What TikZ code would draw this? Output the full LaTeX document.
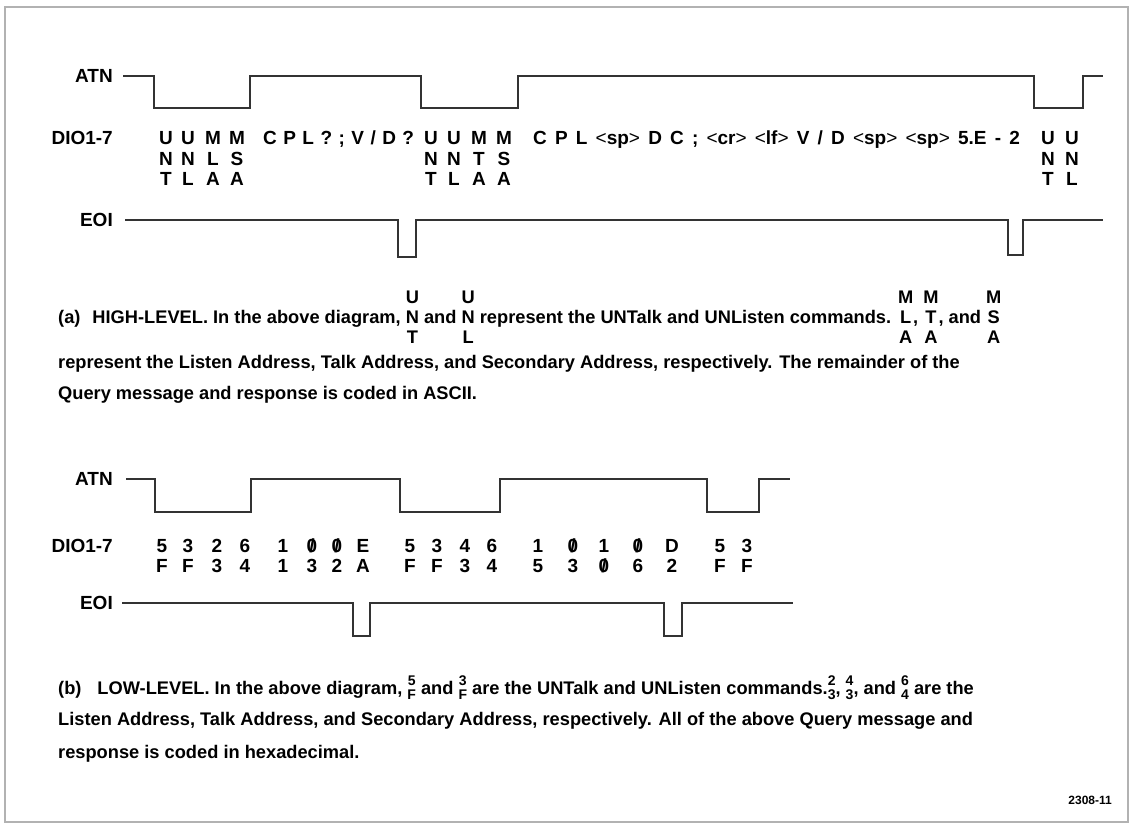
\documentclass[tikz,border=0pt]{standalone}
\usepackage{fontspec}
\setmainfont{Liberation Sans}
\usetikzlibrary{positioning}

% stacked letters / digits inside the captions
\newcommand\tri[3]{\ooalign{\hfil\raisebox{20pt}{#1}\hfil\cr\hfil#2\hfil\cr\hfil\raisebox{-20pt}{#3}\hfil\cr}}
\newcommand\duo[2]{{\fontsize{14}{14}\selectfont\ooalign{\hfil\raisebox{8.5pt}{#1}\hfil\cr\hfil\raisebox{-5.5pt}{#2}\hfil\cr}}}
\newcommand\slz{\ooalign{0\cr\hidewidth/\hidewidth\cr}}
\newcommand\ang[1]{\textmd{<}#1\textmd{>}}

\begin{document}
\begin{tikzpicture}[x=1pt, y=-1pt,
	sig/.style={line width=1.5pt, black!80},
	lbl/.style={anchor=east, inner sep=0pt, font={\fontsize{19}{19}\selectfont\bfseries}},
	chr/.style={anchor=base, inner sep=0pt, font={\fontsize{19}{19}\selectfont\bfseries}},
	txt/.style={anchor=base west, inner sep=0pt, font={\fontsize{19}{19}\selectfont\bfseries}},
	captxt/.style={anchor=base west, inner sep=0pt, font={\fontsize{18.25}{20}\selectfont\bfseries}}]
	\useasboundingbox (0,0) rectangle (1134,825);
	\draw[gray!60, line width=1.2pt] (5,7) rectangle (1128,822);

	% (a) high level
	\node[lbl] (atnA) at (113,76) {ATN};
	\node[lbl] (dioA) at (113,138) {DIO1-7};
	\node[lbl] (eoiA) at (113,220) {EOI};
	\draw[sig] ([xshift=10pt]atnA.east) -- (154,76) -- (154,108) -- (250,108) -- (250,76) -- (421,76) -- (421,108) -- (518,108) -- (518,76) -- (1034,76) -- (1034,108) -- (1083,108) -- (1083,76) -- (1103,76);
	\draw[sig] ([xshift=12pt]eoiA.east) -- (398,220) -- (398,257) -- (416,257) -- (416,220) -- (1008,220) -- (1008,255) -- (1023,255) -- (1023,220) -- (1103,220);
	\foreach \x/\a/\b/\c [count=\i] in {166/U/N/T, 188/U/N/L, 213/M/L/A, 237/M/S/A, 431/U/N/T, 454/U/N/L, 479/M/T/A, 504/M/S/A, 1048/U/N/T, 1072/U/N/L} {
		\node[chr] (ca\i) at (\x,144.5) {\a};
		\node[chr] (cb\i) at (\x,165) {\b};
		\node[chr] (cc\i) at (\x,185.5) {\c};
	}
	\node[txt] (qry) at (263,144.5) {\spaceskip=0.34em\relax C P L ? ; V / D ?};
	\node[txt] (rsp) at (533,144.5) {\spaceskip=0.43em\relax C P L \ang{sp} D C ; \ang{cr} \ang{lf} V / D \ang{sp} \ang{sp} 5.E - 2};
	\node[captxt] (capA1) at (58,323) {(a)\hspace{12pt}HIGH-LEVEL. In the above diagram, \tri{U}{N}{T} and \tri{U}{N}{L} represent the UNTalk and UNListen commands. \tri{M}{L}{A}, \tri{M}{T}{A}, and \tri{M}{S}{A}};
	\node[captxt] (capA2) at (58,368) {represent the Listen Address, Talk Address, and Secondary Address, respectively. The remainder of the};
	\node[captxt] (capA3) at (58,399) {Query message and response is coded in ASCII.};

	% (b) low level
	\node[lbl] (atnB) at (113,479) {ATN};
	\node[lbl] (dioB) at (113,546) {DIO1-7};
	\node[lbl] (eoiB) at (113,603) {EOI};
	\draw[sig] ([xshift=13pt]atnB.east) -- (155,479) -- (155,512) -- (251,512) -- (251,479) -- (400,479) -- (400,512) -- (500,512) -- (500,479) -- (707,479) -- (707,512) -- (759,512) -- (759,479) -- (790,479);
	\draw[sig] ([xshift=9pt]eoiB.east) -- (353,603) -- (353,636) -- (370,636) -- (370,603) -- (664,603) -- (664,636) -- (682,636) -- (682,603) -- (793,603);
	\foreach \x/\a/\b [count=\i] in {162/5/F, 188/3/F, 217/2/3, 245/6/4, 283/1/1, 312/\slz/3, 337/\slz/2, 363/E/A, 410/5/F, 437/3/F, 465/4/3, 492/6/4, 538/1/5, 573/\slz/3, 604/1/\slz, 638/\slz/6, 672/D/2, 720/5/F, 747/3/F} {
		\node[chr] (ha\i) at (\x,552) {\a};
		\node[chr] (hb\i) at (\x,572) {\b};
	}
	\node[captxt] (capB1) at (58,694) {(b)\hspace{16pt}LOW-LEVEL. In the above diagram, \duo{5}{F} and \duo{3}{F} are the UNTalk and UNListen commands.\duo{2}{3}, \duo{4}{3}, and \duo{6}{4} are the};
	\node[captxt] (capB2) at (58,725) {Listen Address, Talk Address, and Secondary Address, respectively. All of the above Query message and};
	\node[captxt] (capB3) at (58,758) {response is coded in hexadecimal.};

	\node[anchor=east, inner sep=0pt, font={\fontsize{12}{12}\selectfont\bfseries}] (fig) at (1112,800) {2308-11};
\end{tikzpicture}
\end{document}
